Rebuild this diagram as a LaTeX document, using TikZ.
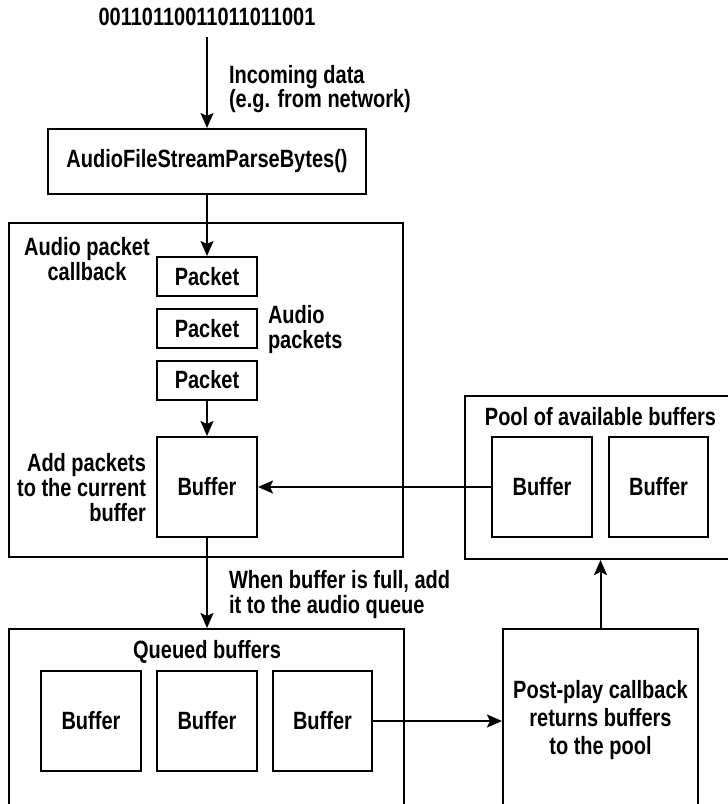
\documentclass[tikz,border=0pt]{standalone}
\usepackage{fontspec}
\newfontfamily\diagfont[FakeStretch=0.8]{Liberation Sans}
\usetikzlibrary{arrows.meta}
\begin{document}
\begin{tikzpicture}[x=1pt,y=-1pt,line width=2pt,
  every node/.style={font=\diagfont\bfseries\fontsize{25}{25}\selectfont,inner sep=0pt},
  box/.style={draw,minimum width=#1},
  box/.default=100,
  arr/.style={-{Stealth[length=15pt,width=13pt,inset=3pt]}},
]
\clip (0,0) rectangle (728,804);

% input stream and parser
\node (bits) at (207,17) {00110110011011011001};
\node[anchor=west,align=left,font=\diagfont\bfseries\fontsize{25}{23}\selectfont] (incoming) at (228,89) {Incoming data\\(e.g. from network)};
\node[box=318,minimum height=65] (parse) at (207,161.5) {AudioFileStreamParseBytes()};

% audio packet callback
\node[box=394,minimum height=334] (cb) at (206,390) {};
\node[align=center] (cblabel) at (87,259.5) {Audio packet\\callback};
\node[box,minimum height=39] (p1) at (207,276.5) {Packet};
\node[box,minimum height=39] (p2) at (207,328.5) {Packet};
\node[box,minimum height=39] (p3) at (207,380) {Packet};
\node[anchor=west,align=left] (aplabel) at (267,329.5) {Audio\\packets};
\node[box,minimum height=100] (cur) at (207,487) {Buffer};
\node[anchor=east,align=right] (addlabel) at (147,488) {Add packets\\to the current\\buffer};

% pool of available buffers
\node[box=285,minimum height=163] (pool) at (607.5,477.5) {};
\node (poollabel) at (600.5,417) {Pool of available buffers};
\node[box,minimum height=100] (pb1) at (542,487) {Buffer};
\node[box=99,minimum height=100] (pb2) at (658.5,487) {Buffer};

% queued buffers
\node[anchor=west,align=left] (whenlabel) at (228,594.5) {When buffer is full, add\\it to the audio queue};
\node[box=395,minimum height=191] (queue) at (206.5,724.5) {};
\node (queuelabel) at (207,652) {Queued buffers};
\node[box,minimum height=100] (q1) at (91,721) {Buffer};
\node[box,minimum height=100] (q2) at (207,721) {Buffer};
\node[box=99,minimum height=100] (q3) at (322.5,721) {Buffer};

% post-play callback
\node[box=195,minimum height=182,align=center,font=\diagfont\bfseries\fontsize{25}{28}\selectfont] (post) at (600.5,720) {Post-play callback\\returns buffers\\to the pool};

% connectors
\draw[arr,shorten <=10pt] (bits.south) -- (bits.south |- parse.north);
\draw[arr] (parse.south) -- (p1.north);
\draw[arr] (p3.south) -- (cur.north);
\draw[arr] (pb1.west) -- (cur.east);
\draw[arr] (cur.south) -- (cur.south |- queue.north);
\draw[arr] (q3.east) -- (q3.east -| post.west);
\draw[arr] (post.north) -- (post.north |- pool.south);
\end{tikzpicture}
\end{document}
